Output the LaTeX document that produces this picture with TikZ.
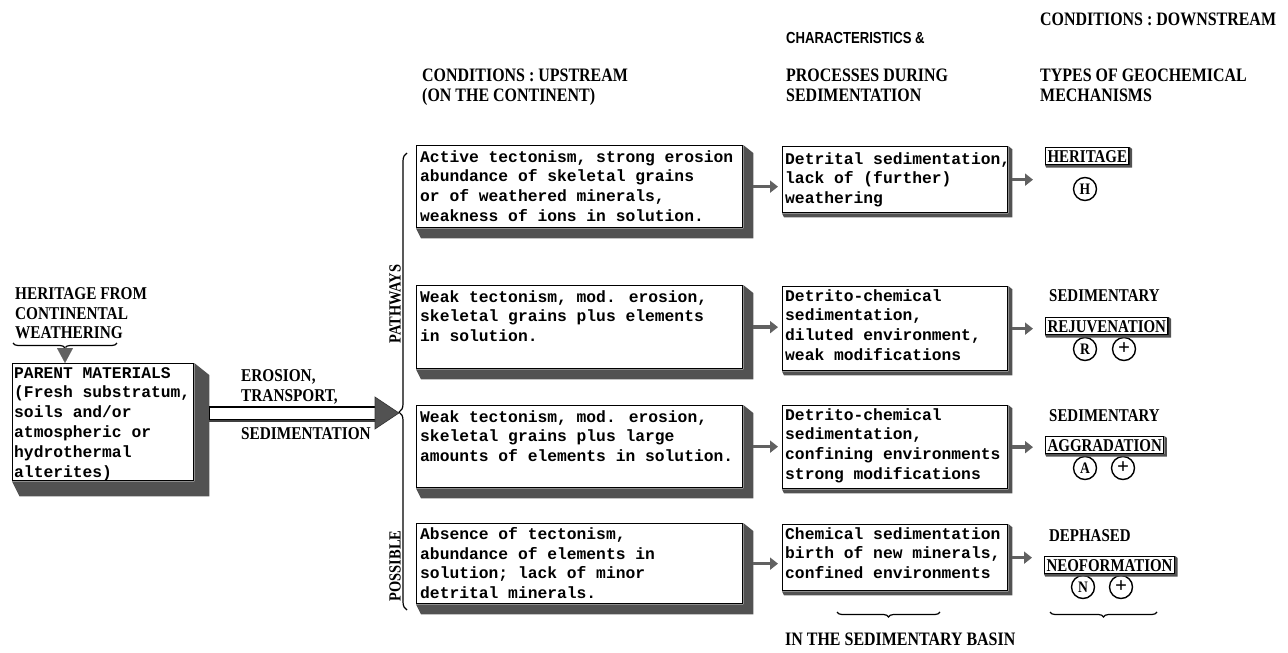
\documentclass[tikz,border=0pt]{standalone}
\usepackage{fontspec}
\usepackage{graphicx}
\usetikzlibrary{arrows.meta,decorations.pathreplacing,calc}
\newfontfamily\twfont{Liberation Mono}
\newfontfamily\capfont{Liberation Serif}
\newfontfamily\narrowfont{Liberation Sans}

% narrow (condensed) block of capital lines
\newcommand\narrowcaps[2][0.84]{\scalebox{#1}[1]{\begin{tabular}{@{}l@{}}#2\end{tabular}}}

% extruded, dark shadow along the right and bottom edges of a box
\newcommand\dropshade[2]{%
  \fill[shadowfill] (#1.north east) -- ++(#2,0.8*#2) -- ($(#1.south east)+(#2,#2)$)
    -- ($(#1.south west)+(0.5*#2,#2)$) -- (#1.south west) -- (#1.south east) -- cycle;}

\begin{document}
\begin{tikzpicture}[x=1pt,y=-1pt,
  shadowfill/.style={fill=black!68},
  ubox/.style={draw, line width=1.3pt, fill=white, anchor=north west, inner sep=0pt},
  boxtext/.style={anchor=north west, inner sep=0pt, align=left,
    font=\twfont\bfseries\fontsize{16.3pt}{19.8pt}\selectfont},
  head/.style={anchor=north west, inner sep=0pt,
    font=\capfont\bfseries\fontsize{19pt}{20pt}\selectfont},
  sidehead/.style={head, font=\capfont\bfseries\fontsize{18pt}{19.5pt}\selectfont},
  smallhead/.style={anchor=north west, inner sep=0pt,
    font=\narrowfont\bfseries\fontsize{16pt}{16pt}\selectfont},
  lab/.style={anchor=north west, inner sep=0pt,
    font=\capfont\bfseries\fontsize{18pt}{18pt}\selectfont},
  rbox/.style={draw, line width=1.2pt, fill=white, anchor=north west,
    inner xsep=2pt, inner ysep=0pt, text height=14.5pt, text depth=2.5pt,
    font=\capfont\bfseries\fontsize{18pt}{18pt}\selectfont},
  circ/.style={circle, draw, line width=1.4pt, inner sep=0pt, minimum size=23pt,
    font=\capfont\bfseries\fontsize{16pt}{16pt}\selectfont},
  pluscirc/.style={circ, font=\capfont\bfseries\fontsize{21pt}{21pt}\selectfont},
  vlab/.style={rotate=90, inner sep=0pt, font=\capfont\bfseries\fontsize{17pt}{17pt}\selectfont},
  smallarrow/.style={draw=black!62, line width=3.5pt,
    -{Triangle[length=8pt,width=12pt,fill=black!62]}},
  curly/.style={line width=1.2pt, decorate},
]
\useasboundingbox (0,0) rectangle (1288,653);

% ---------- column headings ----------
\node[head] (hup) at (422,67) {\narrowcaps{CONDITIONS : UPSTREAM\\(ON THE CONTINENT)}};
\node[smallhead] (hchar) at (786,32) {\narrowcaps[0.82]{CHARACTERISTICS \&}};
\node[head] (hproc) at (786,67) {\narrowcaps{PROCESSES DURING\\SEDIMENTATION}};
\node[head] (hdown) at (1040,11) {\narrowcaps{CONDITIONS : DOWNSTREAM}};
\node[head] (htypes) at (1040,67) {\narrowcaps{TYPES OF GEOCHEMICAL\\MECHANISMS}};

% ---------- parent materials ----------
\node[sidehead] (hf) at (15,286) {\narrowcaps[0.85]{HERITAGE FROM\\CONTINENTAL\\WEATHERING}};
\coordinate (hbl) at (13,343);
\coordinate (hbr) at (117,343);
\draw[curly, decoration={brace, mirror, amplitude=5pt}] (hbl) -- (hbr);
\coordinate (hbtip) at (65,347);

\node[ubox, minimum width=181pt, minimum height=117pt] (parent) at (12,363) {};
\dropshade{parent}{15}
\node[boxtext] (parenttext) at ($(parent.north west)+(2,4)$)
  {PARENT MATERIALS\\(Fresh substratum,\\soils and/or\\atmospheric or\\hydrothermal\\alterites)};
\draw[black!62, line width=0.1pt, -{Triangle[length=15pt,width=16pt,fill=black!62]}]
  (hbtip) -- (hbtip |- parent.north);

\node[sidehead] (eros) at (241,368) {\narrowcaps[0.85]{EROSION,\\TRANSPORT,}};
\node[sidehead] (sedtxt) at (241,426) {\narrowcaps[0.85]{SEDIMENTATION}};

% ---------- brace of the possible pathways ----------
\coordinate (bbot) at (407,610);
\coordinate (btop) at (407,153);
\draw[curly, decoration={brace, amplitude=8pt, aspect=0.433}] (bbot) -- (btop);
\coordinate (bigtip) at (399,413);
\node[vlab] (pw) at (395,304) {\scalebox{0.85}[1]{PATHWAYS}};
\node[vlab] (ps) at (395,566) {\scalebox{0.85}[1]{POSSIBLE}};

% broad arrow: erosion, transport, sedimentation
\coordinate (bigtail) at ($(parent.east |- bigtip)+(15,0)$);
\fill[white, draw=black, line width=1.2pt] ($(bigtail)+(0,-6)$) rectangle ($(bigtip)+(-22,7)$);
\draw[line width=2.5pt, black!75] ($(bigtail)+(0,8)$) -- ($(bigtip)+(-22,8)$);
\fill[shadowfill, draw=black!80, line width=0.6pt]
  ($(bigtip)+(-24,-16)$) -- (bigtip) -- ($(bigtip)+(-24,16)$) -- cycle;

% ---------- upstream conditions ----------
\node[ubox, minimum width=326pt, minimum height=82pt] (u1) at (416,145) {};
\node[ubox, minimum width=326pt, minimum height=83pt] (u2) at (416,285) {};
\node[ubox, minimum width=326pt, minimum height=82pt] (u3) at (416,405) {};
\node[ubox, minimum width=326pt, minimum height=80pt] (u4) at (416,523) {};
\foreach \b in {u1,u2,u3,u4} {\dropshade{\b}{10}}
\node[boxtext] (ut1) at ($(u1.north west)+(4,5)$)
  {Active tectonism, strong erosion\\abundance of skeletal grains\\or of weathered minerals,\\weakness of ions in solution.};
\node[boxtext] (ut2) at ($(u2.north west)+(4,5)$)
  {Weak tectonism, mod. erosion,\\skeletal grains plus elements\\in solution.};
\node[boxtext] (ut3) at ($(u3.north west)+(4,5)$)
  {Weak tectonism, mod. erosion,\\skeletal grains plus large\\amounts of elements in solution.};
\node[boxtext] (ut4) at ($(u4.north west)+(4,4)$)
  {Absence of tectonism,\\abundance of elements in\\solution; lack of minor\\detrital minerals.};

% ---------- processes during sedimentation ----------
\node[ubox, minimum width=225pt, minimum height=66pt] (m1) at (782,146) {};
\node[ubox, minimum width=225pt, minimum height=84pt] (m2) at (782,286) {};
\node[ubox, minimum width=225pt, minimum height=83pt] (m3) at (782,405) {};
\node[ubox, minimum width=225pt, minimum height=66pt] (m4) at (782,524) {};
\foreach \b in {m1,m2,m3,m4} {\dropshade{\b}{4}}
\node[boxtext] (mt1) at ($(m1.north west)+(3,6)$)
  {Detrital sedimentation,\\lack of (further)\\weathering};
\node[boxtext] (mt2) at ($(m2.north west)+(3,3)$)
  {Detrito-chemical\\sedimentation,\\diluted environment,\\weak modifications};
\node[boxtext] (mt3) at ($(m3.north west)+(3,3)$)
  {Detrito-chemical\\sedimentation,\\confining environments\\strong modifications};
\node[boxtext] (mt4) at ($(m4.north west)+(3,3)$)
  {Chemical sedimentation\\birth of new minerals,\\confined environments};

\foreach \i in {1,2,3,4}
  {\draw[smallarrow, shorten <=10pt, shorten >=4pt] (u\i.east) -- (m\i.west |- u\i.east);}

% ---------- geochemical mechanisms ----------
\node[rbox] (r1) at (1045,147) {\scalebox{0.83}[1]{HERITAGE}};
\node[circ] (cH) at (1085,189) {\scalebox{0.85}[1]{H}};

\node[lab] (s2) at (1049,289) {\scalebox{0.83}[1]{SEDIMENTARY}};
\node[rbox] (r2) at (1045,317) {\scalebox{0.83}[1]{REJUVENATION}};
\node[circ] (cR) at (1085,349) {\scalebox{0.85}[1]{R}};
\node[pluscirc] (pR) at (1124,349) {+};

\node[lab] (s3) at (1049,409) {\scalebox{0.83}[1]{SEDIMENTARY}};
\node[rbox] (r3) at (1045,436) {\scalebox{0.83}[1]{AGGRADATION}};
\node[circ] (cA) at (1085,468) {\scalebox{0.85}[1]{A}};
\node[pluscirc] (pA) at (1123,468) {+};

\node[lab] (s4) at (1049,529) {\scalebox{0.83}[1]{DEPHASED}};
\node[rbox] (r4) at (1044,556) {\scalebox{0.83}[1]{NEOFORMATION}};
\node[circ] (cN) at (1083,587) {\scalebox{0.85}[1]{N}};
\node[pluscirc] (pN) at (1121,587) {+};

\foreach \b in {r1,r2,r3,r4} {\dropshade{\b}{2.5}}

\foreach \i in {1,2,3,4}
  {\draw[smallarrow, shorten <=4pt, shorten >=12pt] (m\i.east) -- (r\i.west |- m\i.east);}

% ---------- sedimentary basin ----------
\coordinate (mbl) at (837,612);
\coordinate (mbr) at (940,612);
\coordinate (rbl) at (1050,612);
\coordinate (rbr) at (1157,612);
\draw[curly, decoration={brace, mirror, amplitude=5pt}] (mbl) -- (mbr);
\draw[curly, decoration={brace, mirror, amplitude=5pt}] (rbl) -- (rbr);
\node[head] (basin) at (785,631) {\narrowcaps{IN THE SEDIMENTARY BASIN}};
\end{tikzpicture}
\end{document}
